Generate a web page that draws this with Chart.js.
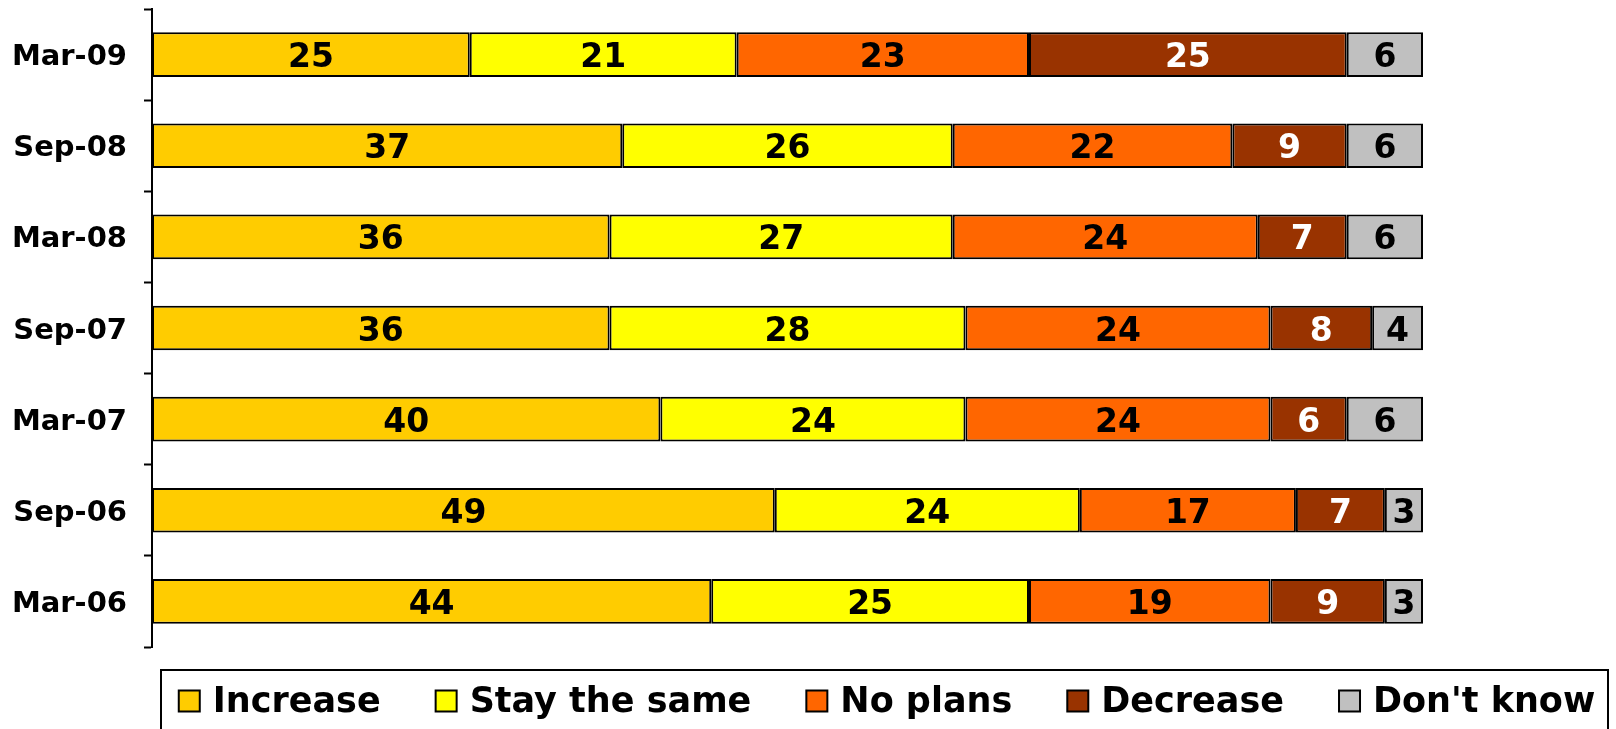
<!DOCTYPE html>
<html>
<head>
<meta charset="utf-8">
<script src="https://cdn.jsdelivr.net/npm/chart.js@4"></script>
<style>
  html, body { margin: 0; padding: 0; background: #fff; }
  canvas { display: block; }
</style>
</head>
<body>
<canvas id="spendChart" width="1616" height="729"></canvas>
<script>
const periods = ['Mar-09', 'Sep-08', 'Mar-08', 'Sep-07', 'Mar-07', 'Sep-06', 'Mar-06']

const increase = [25, 37, 36, 36, 40, 49, 44]
const staySame = [21, 26, 27, 28, 24, 24, 25]
const noPlans = [23, 22, 24, 24, 24, 17, 19]
const decrease = [25, 9, 7, 8, 6, 7, 9]
const dontKnow = [6, 6, 6, 4, 6, 3, 3]

const seriesNames = ['Increase', 'Stay the same', 'No plans', 'Decrease', "Don't know"]
const seriesColors = ['#FFCC00', '#FFFF00', '#FF6600', '#993300', '#C0C0C0']
const labelColors = ['#000', '#000', '#000', '#fff', '#000']

const FONT = '"DejaVu Sans", Verdana, sans-serif'

// value written in the middle of every segment
const segmentLabels = {
  id: 'segmentLabels',
  afterDatasetsDraw(chart) {
    const ctx = chart.ctx
    ctx.save()
    ctx.font = `bold 33px ${FONT}`
    ctx.textAlign = 'center'
    ctx.textBaseline = 'middle'
    chart.data.datasets.forEach((ds, i) => {
      const meta = chart.getDatasetMeta(i)
      meta.data.forEach((bar, j) => {
        ctx.fillStyle = labelColors[i]
        ctx.fillText(String(ds.data[j]), (bar.x + bar.base) / 2, bar.y + 4)
      })
    })
    ctx.restore()
  }
}

// boxed legend along the bottom
const boxLegend = {
  id: 'boxLegend',
  afterDraw(chart) {
    const ctx = chart.ctx
    const box = { left: 161, right: 1608, top: 670, bottom: 740 }
    const marker = 21
    const gap = 13
    const spacing = 55
    ctx.save()
    ctx.font = `bold 35px ${FONT}`
    ctx.textBaseline = 'middle'
    const widths = chart.data.datasets.map(ds => ctx.measureText(ds.label).width)
    const total = widths.reduce((a, w) => a + marker + gap + w, 0) + spacing * (widths.length - 1)
    let x = 887 - total / 2
    const y = 701

    ctx.lineWidth = 2
    ctx.strokeStyle = '#000'
    ctx.strokeRect(box.left, box.top, box.right - box.left, box.bottom - box.top)

    chart.data.datasets.forEach((ds, i) => {
      ctx.fillStyle = ds.backgroundColor
      ctx.fillRect(x, y - marker / 2, marker, marker)
      ctx.lineWidth = 2
      ctx.strokeRect(x, y - marker / 2, marker, marker)
      ctx.fillStyle = '#000'
      ctx.fillText(ds.label, x + marker + gap, y + 2)
      x += marker + gap + widths[i] + spacing
    })
    ctx.restore()
  }
}

const seriesData = [increase, staySame, noPlans, decrease, dontKnow]

new Chart(document.getElementById('spendChart'), {
  type: 'bar',
  data: {
    labels: periods,
    datasets: seriesNames.map((name, i) => ({
      label: name,
      data: seriesData[i],
      backgroundColor: seriesColors[i],
      borderColor: '#000',
      borderWidth: 2,
      borderSkipped: false,
      barPercentage: 0.49,
      categoryPercentage: 1
    }))
  },
  options: {
    indexAxis: 'y',
    responsive: false,
    animation: false,
    layout: {
      padding: { top: 9, bottom: 82, left: 0, right: 193 }
    },
    plugins: {
      legend: { display: false },
      tooltip: { enabled: false }
    },
    scales: {
      x: {
        stacked: true,
        display: false,
        min: 0,
        max: 100
      },
      y: {
        stacked: true,
        afterFit(scale) {
          scale.width = 152
          scale.paddingTop = 0
          scale.paddingBottom = 0
        },
        border: { display: true, color: '#000', width: 2 },
        grid: {
          offset: true,
          drawOnChartArea: false,
          drawTicks: true,
          tickLength: 8,
          tickWidth: 2,
          tickColor: '#000'
        },
        ticks: {
          color: '#000',
          padding: 17,
          labelOffset: 3,
          font: { family: FONT, size: 29, weight: 'bold' }
        }
      }
    }
  },
  plugins: [segmentLabels, boxLegend]
})
</script>
</body>
</html>
